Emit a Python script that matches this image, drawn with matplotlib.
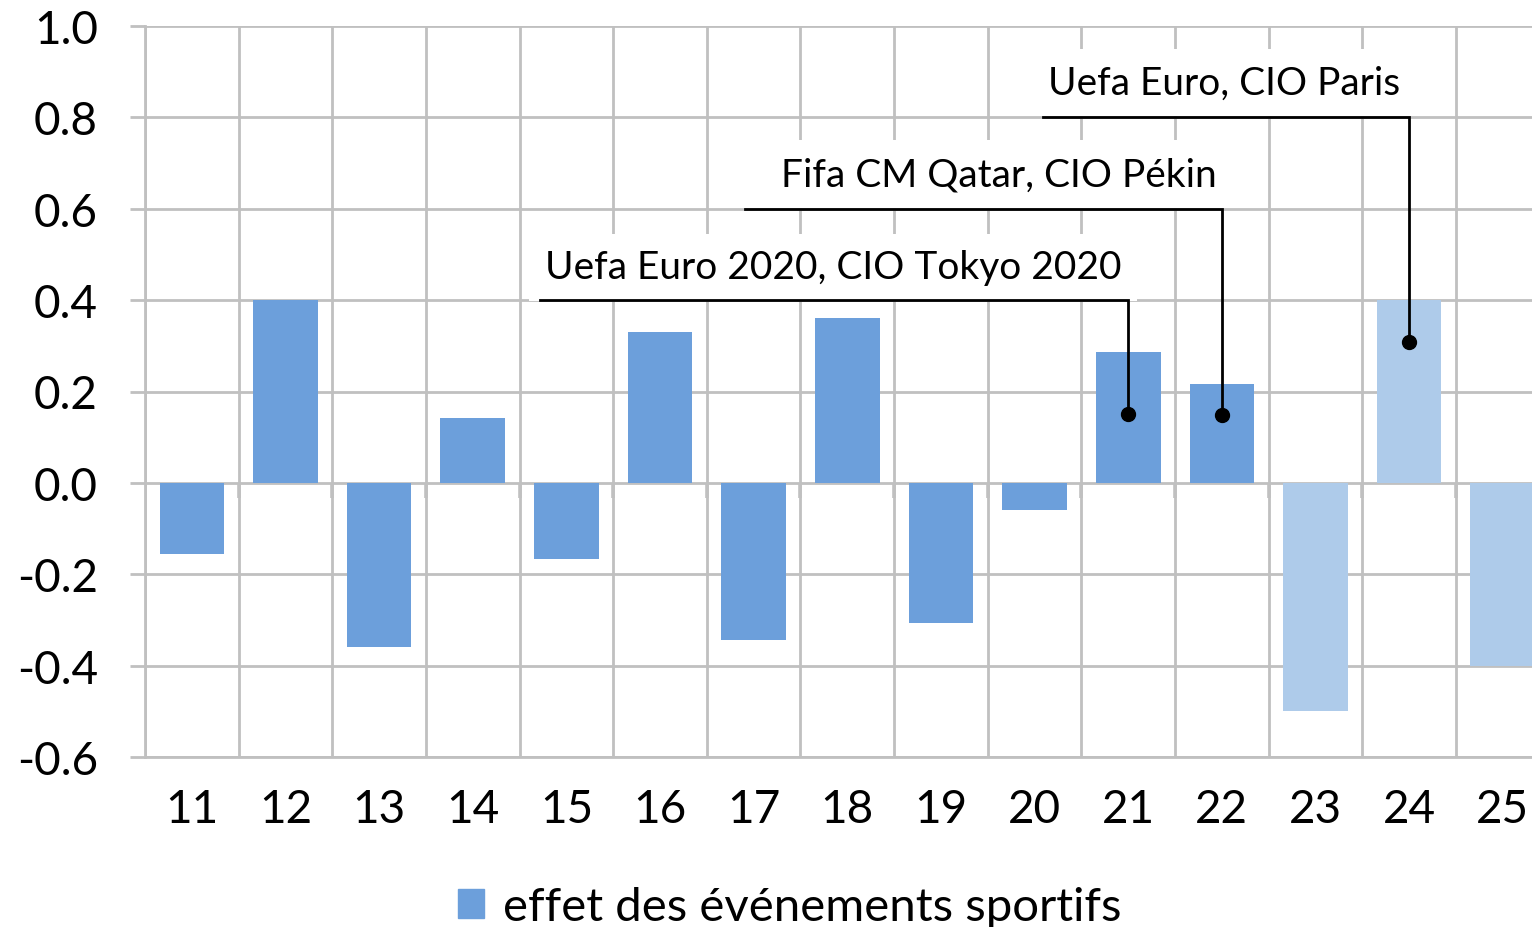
import numpy as np
import matplotlib
matplotlib.use("Agg")
import matplotlib.pyplot as plt
from matplotlib.patches import Patch
from matplotlib.ticker import FuncFormatter, FixedLocator

plt.rcParams["font.family"] = ["Lato", "DejaVu Sans"]
plt.rcParams["axes.unicode_minus"] = False

# data
categories = [11, 12, 13, 14, 15, 16, 17, 18, 19, 20, 21, 22, 23, 24, 25]
values = [-0.155, 0.40, -0.36, 0.142, -0.166, 0.33, -0.344, 0.36, -0.306,
          -0.059, 0.287, 0.217, -0.499, 0.40, -0.40]
is_forecast = [False] * 12 + [True] * 3
legend_label = "effet des événements sportifs"

# annotations: label, bar category, dot value, elbow height, line start x, text x, text y
notes_label = ["Uefa Euro 2020, CIO Tokyo 2020", "Fifa CM Qatar, CIO Pékin", "Uefa Euro, CIO Paris"]
notes_cat = [21, 22, 24]
notes_dot = [0.151, 0.149, 0.309]
notes_level = [0.4, 0.6, 0.8]
notes_start = [14.72, 16.91, 20.09]
notes_tx = [14.77, 17.29, 20.14]
notes_ty = [0.472, 0.676, 0.876]

DARK = "#6C9FDB"
LIGHT = "#AECBEA"
GRID = "#C0C0C0"

W, H = 1532, 928
fig = plt.figure(figsize=(W / 100, H / 100), dpi=100)
left_px, right_px, top_px, bot_px = 145, 1549.6, 27, 758
ax = fig.add_axes([left_px / W, 1 - bot_px / H, (right_px - left_px) / W, (bot_px - top_px) / H])

x = np.array(categories)
colors = [LIGHT if f else DARK for f in is_forecast]
ax.bar(x, values, width=0.69, color=colors, zorder=2)

ax.set_xlim(x[0] - 0.5, x[-1] + 0.5)
ax.set_ylim(-0.6, 1.0)
ax.set_yticks(np.arange(-0.6, 1.01, 0.2))
ax.yaxis.set_major_formatter(FuncFormatter(lambda v, p: f"{v:.1f}" if abs(v) > 1e-9 else "0.0"))
ax.set_xticks(x)
ax.set_xticklabels([str(c) for c in categories])
bounds = np.arange(x[0] - 0.5, x[-1] + 0.6, 1.0)
ax.xaxis.set_minor_locator(FixedLocator(bounds))

ax.set_axisbelow(True)
ax.grid(axis="y", which="major", color=GRID, lw=2)
ax.grid(axis="x", which="minor", color=GRID, lw=2)
for s in ["top", "right"]:
    ax.spines[s].set_visible(False)
for s in ["left", "bottom"]:
    ax.spines[s].set_color(GRID)
    ax.spines[s].set_linewidth(2)

ax.tick_params(axis="y", length=11, width=2, color=GRID, pad=23, labelsize=33)
ax.tick_params(axis="x", which="major", length=0, pad=22, labelsize=33)
ax.tick_params(axis="x", which="minor", length=0)

# little ticks under the zero line
ax.vlines(bounds, -0.033, 0, color=GRID, lw=2.6, zorder=1)

for lab, c, dot, lev, xs, tx, ty in zip(notes_label, notes_cat, notes_dot, notes_level,
                                        notes_start, notes_tx, notes_ty):
    ax.text(tx, ty, lab, fontsize=28, ha="left", va="center", zorder=3,
            bbox=dict(boxstyle="square,pad=0.4", fc="white", ec="none"))
    ax.plot([xs, c, c], [lev, lev, dot], color="black", lw=2, zorder=4, solid_joinstyle="miter")
    ax.plot([c], [dot], "o", color="black", ms=10, zorder=5)

fig.legend(handles=[Patch(color=DARK, label=legend_label)], loc="center",
           bbox_to_anchor=(790 / W, 1 - 908 / H), frameon=False, fontsize=34,
           handlelength=0.55, handleheight=0.55, handletextpad=0.4)

fig.savefig("out.png", dpi=100)
